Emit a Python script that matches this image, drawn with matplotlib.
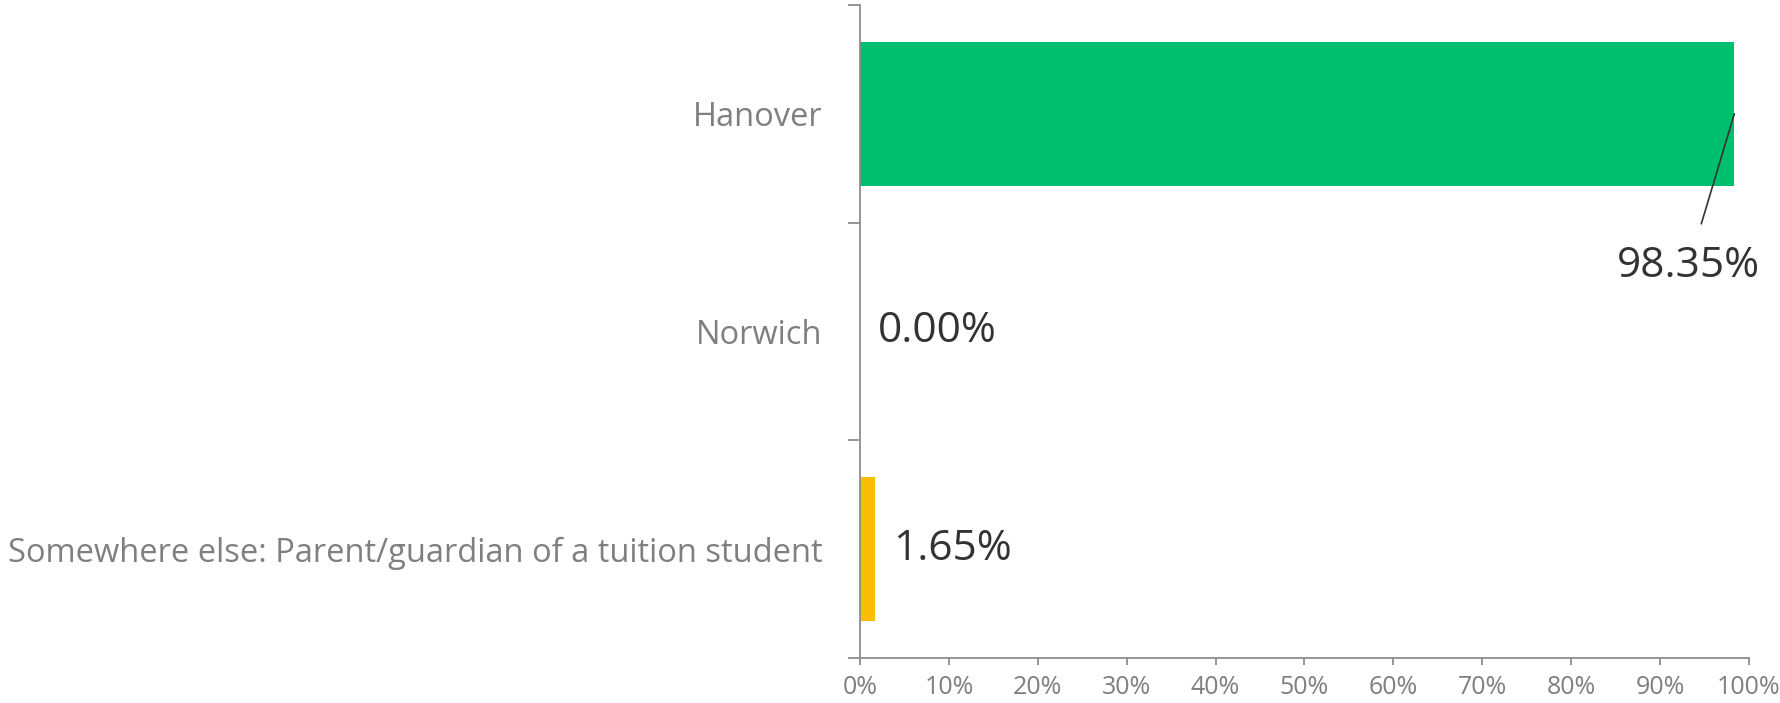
import matplotlib
matplotlib.use("Agg")
import matplotlib.pyplot as plt
from matplotlib.ticker import FixedLocator, PercentFormatter

categories = ["Hanover", "Norwich", "Somewhere else: Parent/guardian of a tuition student"]
values = [98.35, 0.00, 1.65]
bar_colors = ["#00BF6F", "#00BF6F", "#F9BE00"]
x_ticks = [0, 10, 20, 30, 40, 50, 60, 70, 80, 90, 100]

plt.rcParams['font.family'] = ['Open Sans', 'DejaVu Sans']

AXIS_GREY = "#8C8C8C"
LABEL_GREY = "#7F7F7F"
VALUE_DARK = "#333333"

fig = plt.figure(figsize=(17.81, 7.03), dpi=100)
ax = fig.add_axes([860 / 1781, 1 - 658 / 703, (1749 - 860) / 1781, (658 - 5) / 703])

ypos = list(range(len(categories)))
ax.barh(ypos, values, height=0.66, color=bar_colors)

ax.set_xlim(0, 100)
ax.set_ylim(len(categories) - 0.5, -0.5)

# category labels at centres, tick marks at the band boundaries
ax.set_yticks(ypos)
ax.set_yticklabels(categories, fontsize=23.5, color=LABEL_GREY)
ax.tick_params(axis='y', which='major', length=0, pad=27)
ax.yaxis.set_minor_locator(FixedLocator([i - 0.5 for i in range(len(categories) + 1)]))
ax.tick_params(axis='y', which='minor', length=8.6, width=1.3, color=AXIS_GREY)

ax.set_xticks(x_ticks)
ax.xaxis.set_major_formatter(PercentFormatter(decimals=0))
ax.tick_params(axis='x', length=5, width=1.3, color=AXIS_GREY, labelsize=18,
               labelcolor=LABEL_GREY, pad=7)

for side in ['top', 'right']:
    ax.spines[side].set_visible(False)
for side in ['left', 'bottom']:
    ax.spines[side].set_color(AXIS_GREY)
    ax.spines[side].set_linewidth(1.3)

# value labels
for i, v in enumerate(values):
    if v > 50:
        ax.annotate(f"{v:.2f}%", xy=(v, i), xytext=(93.2, i + 0.7),
                    ha='center', va='center', fontsize=30.5, color=VALUE_DARK,
                    arrowprops=dict(arrowstyle='-', color=VALUE_DARK, lw=1.2,
                                    shrinkA=14, shrinkB=0))
    else:
        ax.annotate(f"{v:.2f}%", xy=(v, i), xytext=(13, 0), textcoords='offset points',
                    ha='left', va='center', fontsize=30.5, color=VALUE_DARK)

fig.savefig("out.png", dpi=100)
